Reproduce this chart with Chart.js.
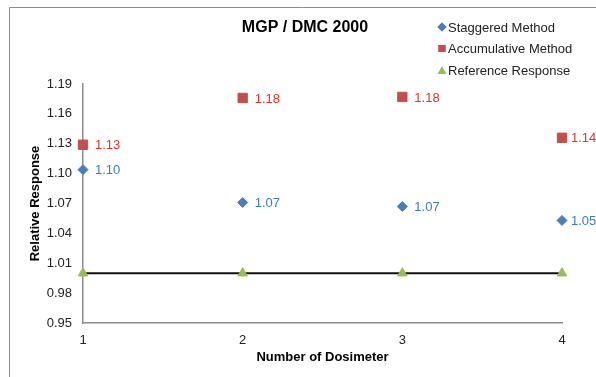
<!DOCTYPE html>
<html>
<head>
<meta charset="utf-8">
<title>MGP / DMC 2000</title>
<script src="https://cdn.jsdelivr.net/npm/chart.js@4"></script>
<style>
  html, body { margin: 0; padding: 0; background: #fff; }
  #wrap { position: relative; width: 596px; height: 377px; }
</style>
</head>
<body>
<div id="wrap"><canvas id="chart1" width="596" height="377"></canvas></div>
<script>
// dosimeter numbers and the measured responses
const dosimeters = [1, 2, 3, 4];
const staggered = [1.104, 1.071, 1.067, 1.053];
const accumulative = [1.129, 1.176, 1.177, 1.136];
const reference = [1.00, 1.00, 1.00, 1.00];
const yTicks = { min: 0.95, max: 1.19, step: 0.03 };

const chartTitle = "MGP / DMC 2000";
const seriesNames = ["Staggered Method", "Accumulative Method", "Reference Response"];

const FONT = "'Liberation Sans', Arial, sans-serif";
const blue = "#4a7ebb";
const red = "#c0504d";
const green = "#9bbb59";

function toPoints(values) {
    let pts = [];
    for (let i = 0; i < dosimeters.length; i++) {
        pts.push({ x: dosimeters[i], y: values[i] });
    }
    return pts;
}

// frame, title and the little legend in the top right
const headerPlugin = {
    id: "header",
    beforeDraw(chart) {
        const ctx = chart.ctx;
        ctx.save();
        ctx.strokeStyle = "#8c8c8c";
        ctx.lineWidth = 1;
        ctx.beginPath();
        ctx.moveTo(9.5, 377);
        ctx.lineTo(9.5, 7.5);
        ctx.lineTo(596, 7.5);
        ctx.stroke();
        ctx.restore();
    },
    afterDraw(chart) {
        const ctx = chart.ctx;
        ctx.save();
        ctx.fillStyle = "#000";
        ctx.font = "bold 16px " + FONT;
        ctx.textAlign = "center";
        ctx.textBaseline = "middle";
        ctx.fillText(chartTitle, 305, 28);

        const styles = ["rectRot", "rect", "triangle"];
        const colours = [blue, red, green];
        const radius = [4.5, 5, 5];
        // triangle is centred on its centroid, nudge it down a bit
        const nudge = [0, 0, 1.5];
        ctx.font = "13px " + FONT;
        ctx.textAlign = "left";
        for (let i = 0; i < seriesNames.length; i++) {
            const y = 27 + i * 21.5;
            ctx.fillStyle = colours[i];
            ctx.strokeStyle = colours[i];
            Chart.helpers.drawPoint(ctx, { pointStyle: styles[i], radius: radius[i], borderWidth: 0 }, 442, y + nudge[i]);
            ctx.fill();
            ctx.fillStyle = "#222";
            ctx.fillText(seriesNames[i], 448, y + 1);
        }
        ctx.restore();
    }
};

// value labels to the right of the markers
const valueLabels = {
    id: "valueLabels",
    afterDatasetsDraw(chart) {
        const ctx = chart.ctx;
        ctx.save();
        ctx.font = "13px " + FONT;
        ctx.textAlign = "left";
        ctx.textBaseline = "middle";
        chart.data.datasets.forEach((ds, di) => {
            if (!ds.labelColor) return;
            const meta = chart.getDatasetMeta(di);
            ctx.fillStyle = ds.labelColor;
            meta.data.forEach((pt, i) => {
                const off = i === meta.data.length - 1 ? 9 : 12;
                ctx.fillText(ds.data[i].y.toFixed(2), pt.x + off, pt.y + 1);
            });
        });
        ctx.restore();
    }
};

const chartOne = document.getElementById("chart1");

new Chart(chartOne, {
    type: "scatter",
    data: {
        datasets: [
            {
                label: seriesNames[2],
                data: toPoints(reference),
                showLine: true,
                borderColor: "#111",
                borderWidth: 2,
                pointStyle: "triangle",
                pointRadius: 5.5,
                pointBackgroundColor: green,
                pointBorderColor: green,
                pointBorderWidth: 1,
                order: 3
            },
            {
                label: seriesNames[0],
                data: toPoints(staggered),
                pointStyle: "rectRot",
                pointRadius: 5,
                pointBackgroundColor: blue,
                pointBorderColor: blue,
                pointBorderWidth: 1,
                labelColor: "#3a7cc3",
                order: 1
            },
            {
                label: seriesNames[1],
                data: toPoints(accumulative),
                pointStyle: "rect",
                pointRadius: 6.6,
                pointBackgroundColor: red,
                pointBorderColor: red,
                pointBorderWidth: 1,
                labelColor: "#e5312b",
                order: 2
            }
        ]
    },
    options: {
        responsive: false,
        animation: false,
        clip: false,
        layout: { padding: { top: 84, right: 34, left: 0, bottom: 0 } },
        plugins: {
            legend: { display: false },
            title: { display: false },
            tooltip: { enabled: false }
        },
        scales: {
            x: {
                type: "linear",
                min: 1,
                max: 4,
                ticks: {
                    stepSize: 1,
                    padding: 10,
                    color: "#222",
                    font: { family: FONT, size: 13 }
                },
                grid: { display: false, drawTicks: false },
                border: { display: true, color: "#8c8c8c", width: 1.5 },
                title: {
                    display: true,
                    text: "Number of Dosimeter",
                    color: "#000",
                    font: { family: FONT, size: 13, weight: "bold" },
                    padding: { top: 0, bottom: 11.5 }
                },
                afterFit(scale) { scale.height = 54; }
            },
            y: {
                min: yTicks.min,
                max: yTicks.max,
                ticks: {
                    stepSize: yTicks.step,
                    padding: 11,
                    color: "#222",
                    font: { family: FONT, size: 13 },
                    callback: v => v.toFixed(2)
                },
                grid: { display: false, drawTicks: false },
                border: { display: true, color: "#8c8c8c", width: 1.5 },
                title: {
                    display: true,
                    text: "Relative Response",
                    color: "#000",
                    font: { family: FONT, size: 13, weight: "bold" },
                    padding: { top: 28, bottom: 0 }
                },
                afterFit(scale) { scale.width = 83; }
            }
        }
    },
    plugins: [headerPlugin, valueLabels]
});
</script>
</body>
</html>
